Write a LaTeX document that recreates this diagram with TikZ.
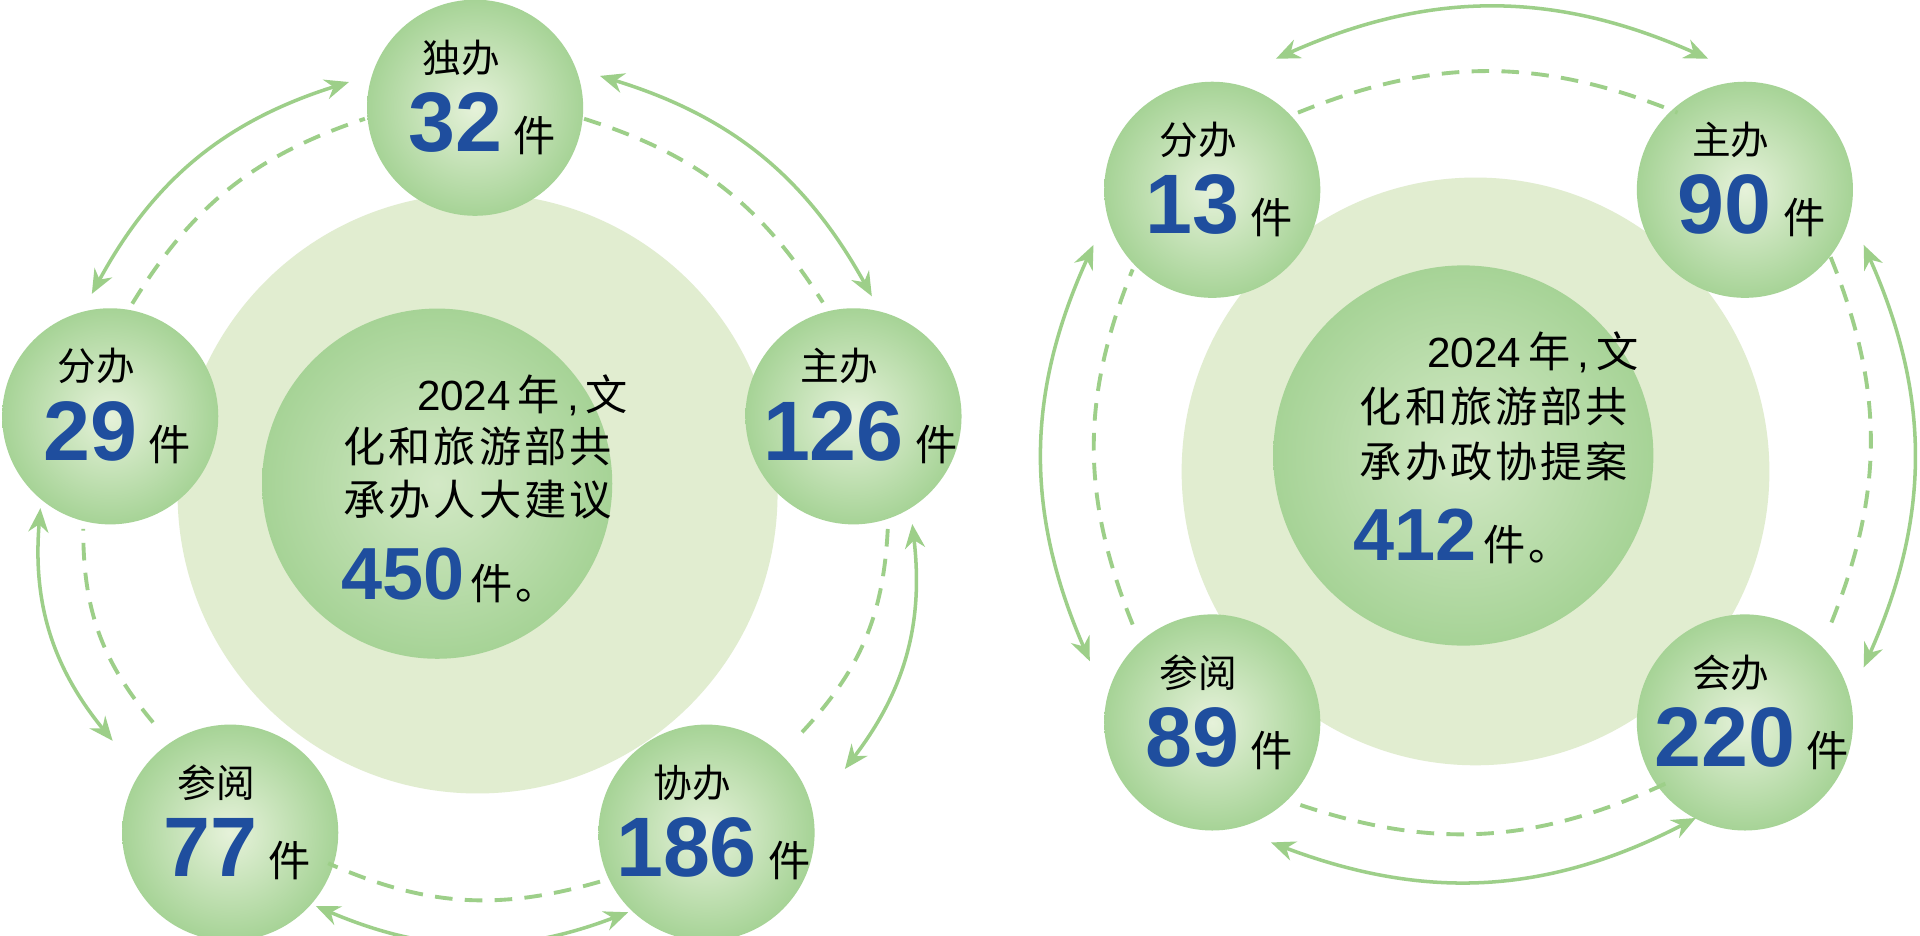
\documentclass[tikz,border=0pt]{standalone}
\usepackage{fontspec}
\setmainfont{Liberation Sans}
\newfontfamily\cjk{Noto Sans CJK SC}
\newfontfamily\cjksp[LetterSpace=7]{Noto Sans CJK SC}
\usetikzlibrary{arrows.meta}
\definecolor{pale}{HTML}{E1EDD0}
\definecolor{midg}{HTML}{A6D396}
\definecolor{lightg}{HTML}{E6F2DA}
\definecolor{arr}{HTML}{9DCF89}
\definecolor{numb}{HTML}{1F4E9E}
\tikzset{
 bubble/.style={circle,minimum size=2.16cm,inner sep=0pt,shading=radial,inner color=lightg,outer color=midg},
 lab/.style={font=\cjk\fontsize{11}{11}\selectfont},
 num/.style={font=\bfseries\fontsize{24}{24}\selectfont,text=numb,inner sep=0pt},
 jian/.style={font=\cjk\fontsize{12}{12}\selectfont,inner sep=0pt,anchor=base west},
 solidarc/.style={draw=arr,line width=1pt,{Stealth[length=2.4mm,width=2mm]}-{Stealth[length=2.4mm,width=2mm]}},
 dasharc/.style={draw=arr,line width=1.1pt,dash pattern=on 5pt off 3.5pt},
 ctext/.style={font=\cjksp\fontsize{12}{12}\selectfont,anchor=base west,inner sep=0pt},
 cnum/.style={font=\bfseries\fontsize{21}{21}\selectfont,text=numb,anchor=base west,inner sep=0pt}
}
\newcommand\mybub[5]{%
 \node[bubble] (#1) at (#2,#3) {};
 \node[lab] (#1l) at ([xshift=-0.14cm,yshift=0.5cm]#1.center) {#4};
 \node[num] (#1n) at ([xshift=-0.2cm,yshift=-0.15cm]#1.center) {#5};
 \node[jian] (#1j) at ([xshift=0.1cm]#1n.base east) {件};
}
\newcommand\yearline{{\fontspec{Liberation Sans}2024}\,年{\fontspec{Liberation Sans}\,,\,}文}
\begin{document}
\begin{tikzpicture}[x=0.012245cm,y=-0.012245cm]
\useasboundingbox[fill=white] (0,0) rectangle (1568,764);
% left
\fill[pale] (390,403) circle (245);
\node[circle,minimum size=3.5cm,shading=radial,inner color=lightg!70!midg,outer color=midg] (lc) at (357,395) {};
\mybub{a1}{388}{88}{独办}{32}
\mybub{a2}{697}{340}{主办}{126}
\mybub{a3}{577}{680}{协办}{186}
\mybub{a4}{188}{680}{参阅}{77}
\mybub{a5}{90}{340}{分办}{29}
\coordinate (s1a) at (490,62); \coordinate (s1b) at (712,242);
\coordinate (s2a) at (745,428); \coordinate (s2b) at (690,628);
\coordinate (s3a) at (513,745); \coordinate (s3b) at (258,740);
\coordinate (s4a) at (92,605); \coordinate (s4b) at (33,415);
\coordinate (s5a) at (75,240); \coordinate (s5b) at (285,67);
\coordinate (d1a) at (477,97); \coordinate (d1b) at (672,247);
\coordinate (d2a) at (725,432); \coordinate (d2b) at (655,598);
\coordinate (d3a) at (490,720); \coordinate (d3b) at (268,705);
\coordinate (d4a) at (125,590); \coordinate (d4b) at (68,432);
\coordinate (d5a) at (108,248); \coordinate (d5b) at (298,97);
\foreach \i in {1,...,5}{
 \draw[solidarc] (s\i a) to[bend left=22] (s\i b);
 \draw[dasharc] (d\i a) to[bend left=20] (d\i b);
}
\node[ctext] (l1) at (340,335) {\yearline};
\node[ctext] (l2) at (280,378) {化和旅游部共};
\node[ctext] (l3) at (280,421) {承办人大建议};
\node[cnum] (l4) at (278,490) {450};
\node[ctext] (l5) at ([xshift=0.05cm]l4.base east) {件。};
% right
\fill[pale] (1205,385) circle (240);
\node[circle,minimum size=3.8cm,shading=radial,inner color=lightg!70!midg,outer color=midg] (rc) at (1195,372) {};
\mybub{b1}{990}{155}{分办}{13}
\mybub{b2}{1425}{155}{主办}{90}
\mybub{b3}{1425}{590}{会办}{220}
\mybub{b4}{990}{590}{参阅}{89}
\coordinate (t1a) at (1042,48); \coordinate (t1b) at (1395,48);
\coordinate (t2a) at (1522,200); \coordinate (t2b) at (1522,545);
\coordinate (t3a) at (1385,668); \coordinate (t3b) at (1038,688);
\coordinate (t4a) at (890,540); \coordinate (t4b) at (893,200);
\coordinate (e1a) at (1060,92); \coordinate (e1b) at (1370,92);
\coordinate (e2a) at (1495,210); \coordinate (e2b) at (1495,510);
\coordinate (e3a) at (1360,640); \coordinate (e3b) at (1055,655);
\coordinate (e4a) at (925,510); \coordinate (e4b) at (925,220);
\foreach \i in {1,...,4}{
 \draw[solidarc] (t\i a) to[bend left=24] (t\i b);
 \draw[dasharc] (e\i a) to[bend left=22] (e\i b);
}
\node[ctext] (r1) at (1165,300) {\yearline};
\node[ctext] (r2) at (1110,345) {化和旅游部共};
\node[ctext] (r3) at (1110,390) {承办政协提案};
\node[cnum] (r4) at (1105,458) {412};
\node[ctext] (r5) at ([xshift=0.05cm]r4.base east) {件。};
\end{tikzpicture}
\end{document}
